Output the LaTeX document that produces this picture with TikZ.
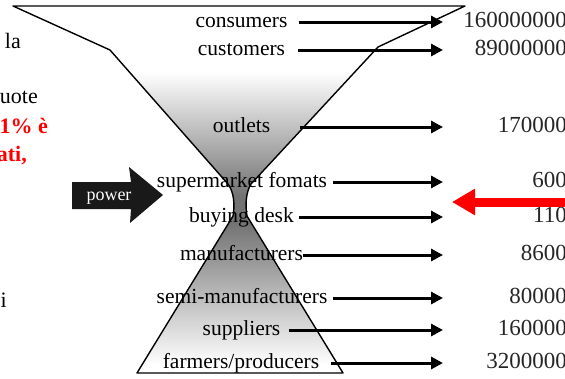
\documentclass[tikz,border=0pt]{standalone}
\usepackage{fontspec}
\setmainfont{Liberation Serif}
\usetikzlibrary{arrows.meta}
\begin{document}
\begin{tikzpicture}[x=1pt,y=-1pt,
  funnel/.style={line width=1.4pt, line join=round},
  lbl/.style={inner sep=0pt, anchor=base, font=\fontsize{21.5}{24}\selectfont},
  num/.style={inner sep=0pt, anchor=base east, font=\fontsize{23}{26}\selectfont, text=black!85},
  flow/.style={line width=3pt, -{Triangle[length=12pt,width=12pt]}},
  side/.style={inner sep=0pt, anchor=base east, font=\fontsize{22}{26}\selectfont},
  sidered/.style={inner sep=0pt, anchor=base east, text=red, font=\fontsize{22}{26}\selectfont\bfseries},
]
\useasboundingbox (0,0) rectangle (565,378);
\fill[white] (0,0) rectangle (565,378);

% hourglass shading
\begin{scope}
\clip (13,6) -- (110,50) -- (228,184) .. controls (234,192) and (235,205) .. (233,216)
  -- (137,373) -- (343,373) -- (247,216) .. controls (245,205) and (246,192) .. (251,184)
  -- (378,47) -- (465,6) -- cycle;
\shade[top color=white, bottom color=black!55] (0,72) rectangle (565,196);
\fill[black!55] (0,195) rectangle (565,224);
\shade[top color=black!55, bottom color=white] (0,223) rectangle (565,365);
\end{scope}

% hourglass outline
\draw[funnel] (13,6) -- (110,50) -- (228,184) .. controls (234,192) and (235,205) .. (233,216)
  -- (137,373) -- (343,373) -- (247,216) .. controls (245,205) and (246,192) .. (251,184)
  -- (378,47) -- (465,6) -- cycle;

% labels (baseline 5 below the arrow line)
\node[lbl] (l1) at (241.5,27) {consumers};
\node[lbl] (l2) at (241.5,55) {customers};
\node[lbl] (l3) at (241.5,132) {outlets};
\node[lbl] (l4) at (242,187) {supermarket fomats};
\node[lbl] (l5) at (241.5,222) {buying desk};
\node[lbl] (l6) at (241.5,260) {manufacturers};
\node[lbl] (l7) at (242,303) {semi-manufacturers};
\node[lbl] (l8) at (241.5,335) {suppliers};
\node[lbl] (l9) at (241,368) {farmers/producers};

% arrow ends
\coordinate (e1) at (443,22);
\coordinate (e2) at (443,50);
\coordinate (e3) at (443,127);
\coordinate (e4) at (443,182);
\coordinate (e5) at (443,217);
\coordinate (e6) at (443,255);
\coordinate (e7) at (443,298);
\coordinate (e8) at (443,330);
\coordinate (e9) at (443,363);

\draw[flow, shorten <=11pt] (l1.east |- e1) -- (e1);
\draw[flow, shorten <=13pt] (l2.east |- e2) -- (e2);
\draw[flow, shorten <=30pt] (l3.east |- e3) -- (e3);
\draw[flow, shorten <=6pt] (l4.east |- e4) -- (e4);
\draw[flow, shorten <=5pt] (l5.east |- e5) -- (e5);
\draw[flow, shorten <=0pt] (l6.east |- e6) -- (e6);
\draw[flow, shorten <=5pt] (l7.east |- e7) -- (e7);
\draw[flow, shorten <=8pt] (l8.east |- e8) -- (e8);
\draw[flow, shorten <=12pt] (l9.east |- e9) -- (e9);

% numbers
\node[num] (n1) at (567,27) {160000000};
\node[num] (n2) at (567,55) {89000000};
\node[num] (n3) at (567,132) {170000};
\node[num] (n4) at (567,187) {600};
\node[num] (n5) at (567,222) {110};
\node[num] (n6) at (567,260) {8600};
\node[num] (n7) at (567,303) {80000};
\node[num] (n8) at (567,335) {160000};
\node[num] (n9) at (567,368) {3200000};

% power arrow
\fill[black!90] (72,182) -- (131,182) -- (129,167) -- (163,195) -- (130,223) -- (131,209) -- (72,209) -- cycle;
\node[inner sep=0pt, anchor=base, text=white, font=\fontsize{18}{20}\selectfont] (power) at (109,200) {power};

% red arrow
\coordinate (rstart) at (575,202);
\coordinate (rtip) at (452,202);
\draw[red, line width=9pt, -{Triangle[length=23pt,width=25pt]}] (rstart) -- (rtip);

% cropped side text
\node[side] (s1) at (21,48) {la};
\node[side] (s2) at (38,103) {uote};
\node[sidered] (s3) at (48,133) {1\% è};
\node[sidered] (s4) at (27,161) {ati,};
\node[side] (s5) at (7,307) {i};
\end{tikzpicture}
\end{document}
